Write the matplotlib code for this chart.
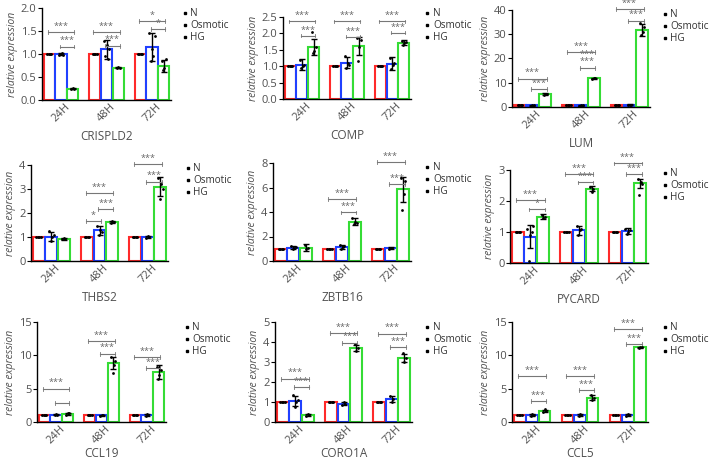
import matplotlib
matplotlib.use("Agg")
import matplotlib.pyplot as plt
from matplotlib.lines import Line2D

plt.rcParams['font.family'] = ['Open Sans', 'DejaVu Sans']

W, H = 709, 463

genes = ["CRISPLD2", "COMP", "LUM", "THBS2", "ZBTB16", "PYCARD", "CCL19", "CORO1A", "CCL5"]
times = ["24H", "48H", "72H"]
series = ["N", "Osmotic", "HG"]

# y-axis tops / tick steps
y_top = [2.0, 2.5, 40, 4, 8, 3, 15, 5, 15]
y_step = [0.5, 0.5, 10, 1, 2, 1, 5, 1, 5]
y_fmt = ["{:.1f}", "{:.1f}", "{:.0f}", "{:.0f}", "{:.0f}", "{:.0f}", "{:.0f}", "{:.0f}", "{:.0f}"]

# means (N is always 1.0)
mean_n = [1.0, 1.0, 1.0]
mean_osm = {
    "CRISPLD2": [1.0, 1.1, 1.15],
    "COMP": [1.05, 1.1, 1.07],
    "LUM": [0.8, 0.7, 0.9],
    "THBS2": [1.02, 1.28, 0.99],
    "ZBTB16": [1.1, 1.15, 1.05],
    "PYCARD": [0.85, 1.05, 1.03],
    "CCL19": [1.1, 1.0, 1.05],
    "CORO1A": [1.05, 0.92, 1.15],
    "CCL5": [1.05, 1.05, 1.05],
}
mean_hg = {
    "CRISPLD2": [0.25, 0.70, 0.74],
    "COMP": [1.58, 1.62, 1.72],
    "LUM": [5.3, 11.8, 31.8],
    "THBS2": [0.93, 1.63, 3.1],
    "ZBTB16": [1.1, 3.2, 5.85],
    "PYCARD": [1.5, 2.4, 2.57],
    "CCL19": [1.25, 8.8, 7.5],
    "CORO1A": [0.35, 3.7, 3.2],
    "CCL5": [1.65, 3.65, 11.2],
}
sd_osm = {
    "CRISPLD2": [0.03, 0.2, 0.3],
    "COMP": [0.17, 0.17, 0.2],
    "LUM": [0.2, 0.2, 0.15],
    "THBS2": [0.2, 0.18, 0.05],
    "ZBTB16": [0.15, 0.15, 0.08],
    "PYCARD": [0.38, 0.15, 0.1],
    "CCL19": [0.12, 0.1, 0.12],
    "CORO1A": [0.25, 0.08, 0.15],
    "CCL5": [0.15, 0.15, 0.15],
}
sd_hg = {
    "CRISPLD2": [0.02, 0.01, 0.13],
    "COMP": [0.25, 0.27, 0.08],
    "LUM": [0.5, 0.2, 2.5],
    "THBS2": [0.04, 0.05, 0.4],
    "ZBTB16": [0.25, 0.3, 1.0],
    "PYCARD": [0.07, 0.08, 0.15],
    "CCL19": [0.15, 0.9, 1.0],
    "CORO1A": [0.07, 0.15, 0.2],
    "CCL5": [0.2, 0.35, 0.08],
}

# individual replicate points
pts_osm = {
    "CRISPLD2": [[0.97, 1.0, 1.02, 0.98], [1.28, 0.95, 1.2, 0.9, 1.1], [1.45, 0.85, 1.1, 0.95, 1.4]],
    "COMP": [[1.2, 0.95, 1.0, 1.05], [1.3, 0.95, 1.1, 1.05], [1.25, 0.9, 1.05, 1.1]],
    "LUM": [[0.6, 0.9, 0.8], [0.5, 0.8, 0.9], [0.9, 0.8, 1.0]],
    "THBS2": [[1.25, 0.85, 1.0, 1.1], [1.45, 1.1, 1.3, 1.2], [0.95, 1.05, 1.0]],
    "ZBTB16": [[1.2, 0.95, 1.1, 1.15], [1.3, 1.0, 1.15, 1.2], [1.0, 1.1, 1.05]],
    "PYCARD": [[1.1, 0.08, 0.9, 1.0, 1.2], [1.2, 0.9, 1.05, 1.1], [1.1, 0.95, 1.0, 1.05]],
    "CCL19": [[1.0, 1.2, 1.1], [0.9, 1.0, 1.1], [0.9, 1.2, 1.1]],
    "CORO1A": [[1.35, 0.75, 1.0, 1.1], [0.85, 1.0, 0.9], [1.3, 1.0, 1.15]],
    "CCL5": [[0.9, 1.2, 1.05], [0.9, 1.2, 1.05], [0.9, 1.2, 1.05]],
}
pts_hg = {
    "CRISPLD2": [[0.24, 0.26, 0.25], [0.69, 0.71, 0.70], [0.85, 0.65, 0.70, 0.9]],
    "COMP": [[2.05, 1.4, 1.45, 1.6], [1.85, 1.15, 1.6, 1.8], [1.78, 1.65, 1.72, 1.75]],
    "LUM": [[5.0, 5.5, 5.4], [11.7, 11.9, 11.8], [34.5, 29.5, 31.0, 33.0]],
    "THBS2": [[0.92, 0.95, 0.9], [1.6, 1.68, 1.62], [3.45, 2.6, 3.2, 3.0]],
    "ZBTB16": [[1.3, 0.95, 1.1], [3.5, 3.0, 3.2, 3.1], [6.8, 4.2, 5.5, 6.5]],
    "PYCARD": [[1.55, 1.45, 1.5], [2.45, 2.3, 2.4], [2.7, 2.2, 2.6, 2.55]],
    "CCL19": [[1.1, 1.4, 1.3], [9.8, 7.3, 8.5, 9.2], [8.2, 6.5, 7.0, 7.8]],
    "CORO1A": [[0.3, 0.4, 0.35], [3.9, 3.55, 3.7], [3.45, 3.0, 3.2]],
    "CCL5": [[1.5, 1.9, 1.6], [4.0, 3.3, 3.6], [11.1, 11.3, 11.2]],
}

# significance brackets: (time index, from series, to series, y, label)
brackets = {
    "CRISPLD2": [(0, 0, 2, 1.48, "***"), (0, 1, 2, 1.16, "***"), (1, 0, 2, 1.48, "***"),
                 (1, 1, 2, 1.18, "***"), (2, 0, 2, 1.71, "*"), (2, 1, 2, 1.54, "*")],
    "COMP": [(0, 0, 2, 2.37, "***"), (0, 1, 2, 1.93, "***"), (1, 0, 2, 2.37, "***"),
             (1, 1, 2, 1.90, "***"), (2, 0, 2, 2.37, "***"), (2, 1, 2, 2.02, "***")],
    "LUM": [(0, 0, 2, 11.6, "***"), (0, 1, 2, 7.4, "***"), (1, 0, 2, 22.6, "***"),
            (1, 1, 2, 16.2, "***"), (2, 0, 2, 40.3, "***"), (2, 1, 2, 35.6, "***")],
    "THBS2": [(1, 0, 1, 1.67, "*"), (1, 0, 2, 2.82, "***"), (1, 1, 2, 2.15, "***"),
              (2, 0, 2, 4.04, "***"), (2, 1, 2, 3.3, "***")],
    "ZBTB16": [(1, 0, 2, 5.05, "***"), (1, 1, 2, 3.96, "***"),
               (2, 0, 2, 8.08, "***"), (2, 1, 2, 6.26, "***")],
    "PYCARD": [(0, 0, 2, 2.03, "***"), (0, 1, 2, 1.73, "*"), (1, 0, 2, 2.87, "***"),
               (1, 1, 2, 2.6, "***"), (2, 0, 2, 3.21, "***"), (2, 1, 2, 2.87, "***")],
    "CCL19": [(0, 0, 2, 5.0, "***"), (0, 1, 2, 2.9, ""), (1, 0, 2, 12.1, "***"),
              (1, 1, 2, 10.25, "***"), (2, 0, 2, 9.75, "***"), (2, 1, 2, 8.1, "***")],
    "CORO1A": [(0, 0, 2, 2.17, "***"), (0, 1, 2, 1.75, "***"), (1, 0, 2, 4.45, "***"),
               (1, 1, 2, 3.97, "***"), (2, 0, 2, 4.42, "***"), (2, 1, 2, 3.75, "***")],
    "CCL5": [(0, 0, 2, 6.9, "***"), (0, 1, 2, 3.1, "***"), (1, 0, 2, 6.9, "***"),
             (1, 1, 2, 4.75, "***"), (2, 0, 2, 13.9, "***"), (2, 1, 2, 11.65, "***")],
}
# extra star label without a line (LUM 48H)
extra_labels = {"LUM": [(1, 1, 2, 20.0, "***")]}

# axes boxes in pixels: left, top, right, bottom
boxes = [
    (42, 8, 171, 100), (283, 17, 411, 99), (512, 10, 650, 107),
    (31, 165, 168, 261), (273, 163, 411, 261), (510, 170, 648, 263),
    (37, 322, 166, 422), (275, 322, 412, 422), (512, 322, 648, 422),
]
legend_pos = [(183, 8), (426, 8), (663, 9), (186, 163), (426, 162), (663, 168),
              (185, 322), (426, 322), (663, 322)]
xlabel_pad = [4, 4, 4, 4, 4, 4, 1, 1, 1]

colors = ["#ff2a2a", "#2040ff", "#35dc35"]
gray = "#505050"
bw = 0.26

fig = plt.figure(figsize=(W / 100, H / 100), dpi=100)


def xpos(t, s):
    return t + (s - 1) * bw


for gi, gene in enumerate(genes):
    l, t, r, b = boxes[gi]
    ax = fig.add_axes([l / W, 1 - b / H, (r - l) / W, (b - t) / H])

    means = [mean_n, mean_osm[gene], mean_hg[gene]]
    sds = [[0.0, 0.0, 0.0], sd_osm[gene], sd_hg[gene]]
    pts = [[[1.0] * 4] * 3, pts_osm[gene], pts_hg[gene]]

    for s in range(3):
        xs = [xpos(k, s) for k in range(3)]
        ax.bar(xs, means[s], width=bw * 0.95, facecolor="white",
               edgecolor=colors[s], linewidth=1.5, zorder=2)
        ax.errorbar(xs, means[s], yerr=sds[s], fmt="none", ecolor="black",
                    elinewidth=1, capsize=2, capthick=1, zorder=3)
        for k in range(3):
            p = pts[s][k]
            n = len(p)
            jit = [xpos(k, s) + (j - (n - 1) / 2) * bw * 0.12 for j in range(n)]
            ax.scatter(jit, p, s=4, color="black", zorder=4, linewidths=0)

    for (k, s0, s1, y, lab) in brackets[gene]:
        x0, x1 = xpos(k, s0) - 0.03, xpos(k, s1) + 0.03
        ax.plot([x0, x1], [y, y], color="#777777", lw=0.8, clip_on=False, zorder=5)
        dy = y_top[gi] * 0.02
        ax.plot([x0, x0], [y - dy, y + dy], color="#777777", lw=0.6, clip_on=False)
        ax.plot([x1, x1], [y - dy, y + dy], color="#777777", lw=0.6, clip_on=False)
        if lab:
            ax.text((x0 + x1) / 2, y + y_top[gi] * 0.015, lab, ha="center", va="bottom",
                    fontsize=6.5, color="#666666", clip_on=False)
    for (k, s0, s1, y, lab) in extra_labels.get(gene, []):
        ax.text((xpos(k, s0) + xpos(k, s1)) / 2, y, lab, ha="center", va="bottom",
                fontsize=6.5, color="#666666", clip_on=False)

    ax.set_xlim(-0.42, 2.42)
    ax.set_ylim(0, y_top[gi])
    ticks = [i * y_step[gi] for i in range(int(round(y_top[gi] / y_step[gi])) + 1)]
    ax.set_yticks(ticks)
    ax.set_yticklabels([y_fmt[gi].format(v) for v in ticks])
    ax.set_xticks(range(3))
    ax.set_xticklabels(times, rotation=45, ha="center")
    ax.tick_params(axis="x", length=0, pad=1, labelsize=8, labelcolor=gray)
    ax.tick_params(axis="y", length=3, width=0.8, pad=1, labelsize=8, labelcolor=gray)
    for sp in ["top", "right"]:
        ax.spines[sp].set_visible(False)
    for sp in ["left", "bottom"]:
        ax.spines[sp].set_linewidth(1)
    ax.set_ylabel("relative expression", fontstyle="italic", fontsize=7.5, color=gray, labelpad=2)
    ax.set_xlabel(gene, fontsize=8.5, color=gray, labelpad=xlabel_pad[gi])

    handles = [Line2D([], [], marker="s", ls="none", color="black", markersize=1.8)
               for _ in series]
    lx, ly = legend_pos[gi]
    ax.legend(handles, series, loc="upper left", bbox_to_anchor=(lx / W, 1 - ly / H),
              bbox_transform=fig.transFigure, frameon=False, fontsize=7.2,
              handlelength=0.3, handletextpad=0.4, labelspacing=0.12, borderpad=0,
              borderaxespad=0, labelcolor="#333333")

fig.savefig("out.png", dpi=100, facecolor="white")
